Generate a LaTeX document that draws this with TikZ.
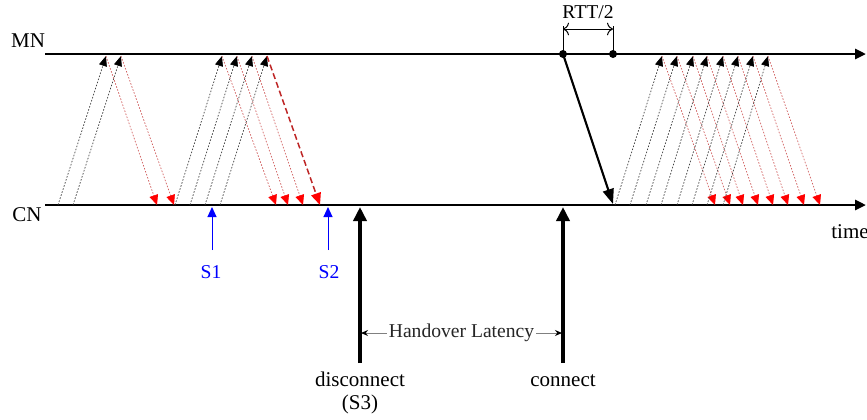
\documentclass[tikz,border=0pt]{standalone}
\usepackage{fontspec}
\setmainfont{Liberation Serif}
\usetikzlibrary{arrows.meta, calc}
\tikzset{every path/.style={line join=round}}

\begin{document}
\begin{tikzpicture}[x=0.5pt,y=-0.5pt,
    timeline/.style={
        line width=1.4pt,
        -{Triangle[length=5.5pt,width=5pt]}
    },
    up/.style={
        black!75,
        line width=0.35pt,
        dash pattern=on 0.8pt off 0.8pt,
        -{Triangle[length=5pt,width=4pt,color=black]}
    },
    down/.style={
        red!55!gray!80,
        line width=0.35pt,
        dash pattern=on 0.8pt off 0.8pt,
        -{Triangle[length=5pt,width=4.4pt,color=red]}
    },
    lost/.style={
        red!70!black!85,
        line width=0.75pt,
        dash pattern=on 3pt off 1.6pt,
        -{Triangle[length=6pt,width=5pt,color=red]}
    },
    marker/.style={
        blue,
        line width=0.5pt,
        -{Triangle[length=5pt,width=4.5pt]}
    },
    event/.style={
        line width=2pt,
        -{Triangle[length=7pt,width=6.5pt]}
    },
    lbl/.style={
        inner sep=1pt,
        font=\fontsize{10.5}{11.5}\selectfont
    },
    small/.style={
        inner sep=1pt,
        font=\fontsize{9.8}{11}\selectfont
    }
]
\useasboundingbox (0,0) rectangle (867,419);

\coordinate (mnA) at (45,54);
\coordinate (mnB) at (866,54);
\coordinate (cnA) at (45,205);
\coordinate (cnB) at (866,205);
\draw[timeline] (mnA) -- (mnB);
\draw[timeline] (cnA) -- (cnB);

\node[lbl] (mn) at (28,41) {MN};
\node[lbl] (cn) at (27,215) {CN};
\node[lbl] (time) at (850,232) {time};

\foreach \a/\b/\c [count=\i] in {58/106/157, 73/121/174, 175/222/276, 190/237/288, 205/252/303}{
    \coordinate (snd\i) at (\a,205);
    \coordinate (top\i) at (\b,56);
    \coordinate (rcv\i) at (\c,205);
    \draw[up] (snd\i) -- (top\i);
    \draw[down] (top\i) -- (rcv\i);
}
\coordinate (snd6) at (220,205);
\coordinate (top6) at (267,56);
\coordinate (rcv6) at (320,205);
\draw[up] (snd6) -- (top6);
\draw[lost] (top6) -- (rcv6);

\foreach \a/\b/\c [count=\i] in {615/662/715, 630/677/730, 646/693/743, 661/707/758,
    677/723/773, 692/738/788, 707/753/804, 723/768/820}{
    \coordinate (nsnd\i) at (\a,205);
    \coordinate (ntop\i) at (\b,56);
    \coordinate (nrcv\i) at (\c,205);
    \draw[up] (nsnd\i) -- (ntop\i);
    \draw[down] (ntop\i) -- (nrcv\i);
}

\coordinate (s1a) at (212,250);
\coordinate (s1b) at (212,207);
\coordinate (s2a) at (328,250);
\coordinate (s2b) at (328,207);
\draw[marker] (s1a) -- (s1b);
\draw[marker] (s2a) -- (s2b);
\node[small, text=blue] (s1) at (211,272) {S1};
\node[small, text=blue] (s2) at (329,272) {S2};

\coordinate (dTop) at (360,207);
\coordinate (dBot) at (360,363);
\coordinate (cTop) at (563,207);
\coordinate (cBot) at (563,363);
\draw[event] (dBot) -- (dTop);
\draw[event] (cBot) -- (cTop);
\node[lbl, align=center] (disc) at (360,393) {disconnect\\(S3)};
\node[lbl] (conn) at (563,381) {connect};

\coordinate (hL) at (361,333);
\coordinate (hR) at (562,333);
\draw[gray, line width=0.5pt, {Stealth[length=3.5pt,width=3pt,color=black]}-{Stealth[length=3.5pt,width=3pt,color=black]}]
    (hL) -- (hR) node[small, midway, fill=white, text=black!85] (hl) {Handover Latency};

\coordinate (rtt1) at (563,54);
\coordinate (rtt2) at (613,54);
\coordinate (rttA) at (563,26);
\coordinate (rttB) at (613,26);
\coordinate (reply) at (613,204);
\draw[line width=0.5pt] (rtt1) -- (rttA);
\draw[line width=0.5pt] (rtt2) -- (rttB);
\draw[line width=0.5pt, {To[length=3pt]}-{To[length=3pt]}] ($(rttA)+(0,3)$) -- ($(rttB)+(0,3)$);
\node[small] (rtt) at (588,12) {RTT/2};
\fill (rtt1) circle (2pt);
\fill (rtt2) circle (2pt);
\draw[line width=1.1pt, -{Triangle[length=7.5pt,width=5.5pt]}] (rtt1) -- (reply);

\end{tikzpicture}
\end{document}
